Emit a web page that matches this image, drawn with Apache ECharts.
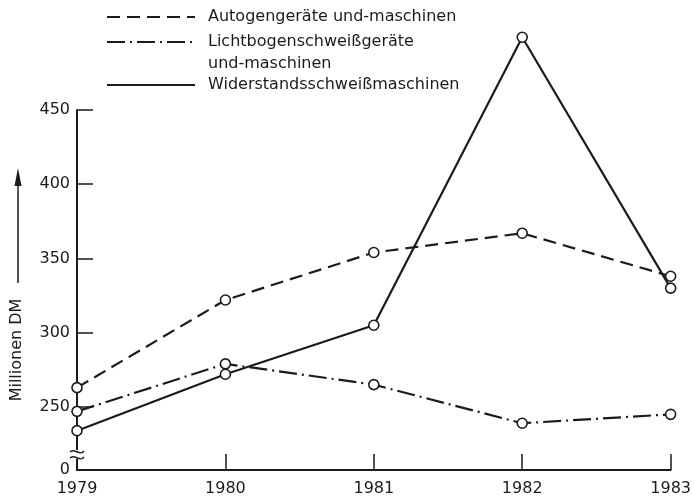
<!DOCTYPE html>
<html>
<head>
<meta charset="utf-8">
<script src="https://cdn.jsdelivr.net/npm/echarts@6/dist/echarts.min.js"></script>
<style>
  html, body { margin: 0; padding: 0; background: #ffffff; }
  #chart { width: 694px; height: 501px; }
</style>
</head>
<body>
<div id="chart"></div>
<script>
// Years on the horizontal axis
const years = ['1979', '1980', '1981', '1982', '1983'];

// Sales in Millionen DM
const autogen = [263, 322, 354, 367, 338];
const lichtbogen = [247, 279, 265, 239, 245];
const widerstand = [234, 272, 305, 499, 330];

// Series names
const names = [
  'Autogengeräte und-maschinen',
  'Lichtbogenschweißgeräte\nund-maschinen',
  'Widerstandsschweißmaschinen'
];

// Value axis: broken at the bottom, the bottom end stands for 0
const yMin = 207.5;
const yMax = 450;
const yTicks = [250, 300, 350, 400, 450];

const ink = '#1b1b1b';
const font = 'DejaVu Sans';
const textFont = '16px "DejaVu Sans"';

const chart = echarts.init(document.getElementById('chart'), null, { renderer: 'canvas' });

function lineSeries(name, data, dash) {
  return {
    name: name,
    type: 'line',
    data: data,
    clip: false,
    symbol: 'circle',
    symbolSize: 10,
    itemStyle: { color: '#ffffff', borderColor: ink, borderWidth: 1.6 },
    lineStyle: { color: ink, width: 2.2, type: dash },
    z: 3
  };
}

const legendLeft = 107, legendRight = 195, textX = 208;

chart.setOption({
  animation: false,
  backgroundColor: '#ffffff',
  textStyle: { fontFamily: font, color: ink },
  grid: { left: 77, right: 22, top: 110, bottom: 31, containLabel: false },
  xAxis: {
    type: 'category',
    data: years,
    boundaryGap: false,
    axisLine: { lineStyle: { color: ink, width: 2 } },
    axisTick: { inside: true, length: 16, lineStyle: { color: ink, width: 1.5 } },
    axisLabel: { color: ink, fontSize: 16, fontFamily: font, margin: 11, interval: 0 },
    splitLine: { show: false }
  },
  yAxis: {
    type: 'value',
    min: yMin,
    max: yMax,
    axisLine: { show: true, lineStyle: { color: ink, width: 2 } },
    axisTick: { show: true, inside: true, length: 16, customValues: yTicks, lineStyle: { color: ink, width: 1.5 } },
    axisLabel: {
      color: ink, fontSize: 16, fontFamily: font, margin: 7,
      customValues: [yMin].concat(yTicks),
      formatter: v => (v === yMin ? '0' : String(v))
    },
    splitLine: { show: false }
  },
  series: [
    lineSeries(names[0], autogen, [13, 7]),
    lineSeries(names[1], lichtbogen, [18, 5, 2, 5]),
    lineSeries(names[2], widerstand, 'solid')
  ],
  graphic: [
    // legend samples
    { type: 'line', shape: { x1: legendLeft, y1: 17, x2: legendRight, y2: 17 },
      style: { stroke: ink, lineWidth: 2, lineDash: [13, 7] } },
    { type: 'line', shape: { x1: legendLeft, y1: 42, x2: legendRight, y2: 42 },
      style: { stroke: ink, lineWidth: 2, lineDash: [18, 5, 2, 5] } },
    { type: 'line', shape: { x1: legendLeft, y1: 85, x2: legendRight, y2: 85 },
      style: { stroke: ink, lineWidth: 2 } },
    { type: 'text', x: textX, y: 17,
      style: { text: names[0], font: textFont, fill: ink, textVerticalAlign: 'middle' } },
    { type: 'text', x: textX, y: 31,
      style: { text: names[1], font: textFont, fill: ink, textVerticalAlign: 'top', lineHeight: 22 } },
    { type: 'text', x: textX, y: 85,
      style: { text: names[2], font: textFont, fill: ink, textVerticalAlign: 'middle' } },
    // axis title with arrow
    { type: 'text', x: 17, y: 350, rotation: Math.PI / 2,
      style: { text: 'Millionen DM', font: textFont, fill: ink, textAlign: 'center', textVerticalAlign: 'middle' } },
    { type: 'line', shape: { x1: 18, y1: 283, x2: 18, y2: 180 },
      style: { stroke: ink, lineWidth: 1.5 } },
    { type: 'polygon', shape: { points: [[18, 168], [14.5, 186], [21.5, 186]] },
      style: { fill: ink } },
    // axis break mark
    { type: 'rect', shape: { x: 71, y: 450, width: 12, height: 9 }, style: { fill: '#ffffff' }, z: 10 },
    { type: 'bezierCurve', shape: { x1: 70, y1: 452, cpx1: 74, cpy1: 447, cpx2: 80, cpy2: 457, x2: 84, y2: 451 },
      style: { stroke: ink, lineWidth: 1.5, fill: null }, z: 11 },
    { type: 'bezierCurve', shape: { x1: 70, y1: 458, cpx1: 74, cpy1: 453, cpx2: 80, cpy2: 463, x2: 84, y2: 457 },
      style: { stroke: ink, lineWidth: 1.5, fill: null }, z: 11 }
  ]
});
</script>
</body>
</html>
